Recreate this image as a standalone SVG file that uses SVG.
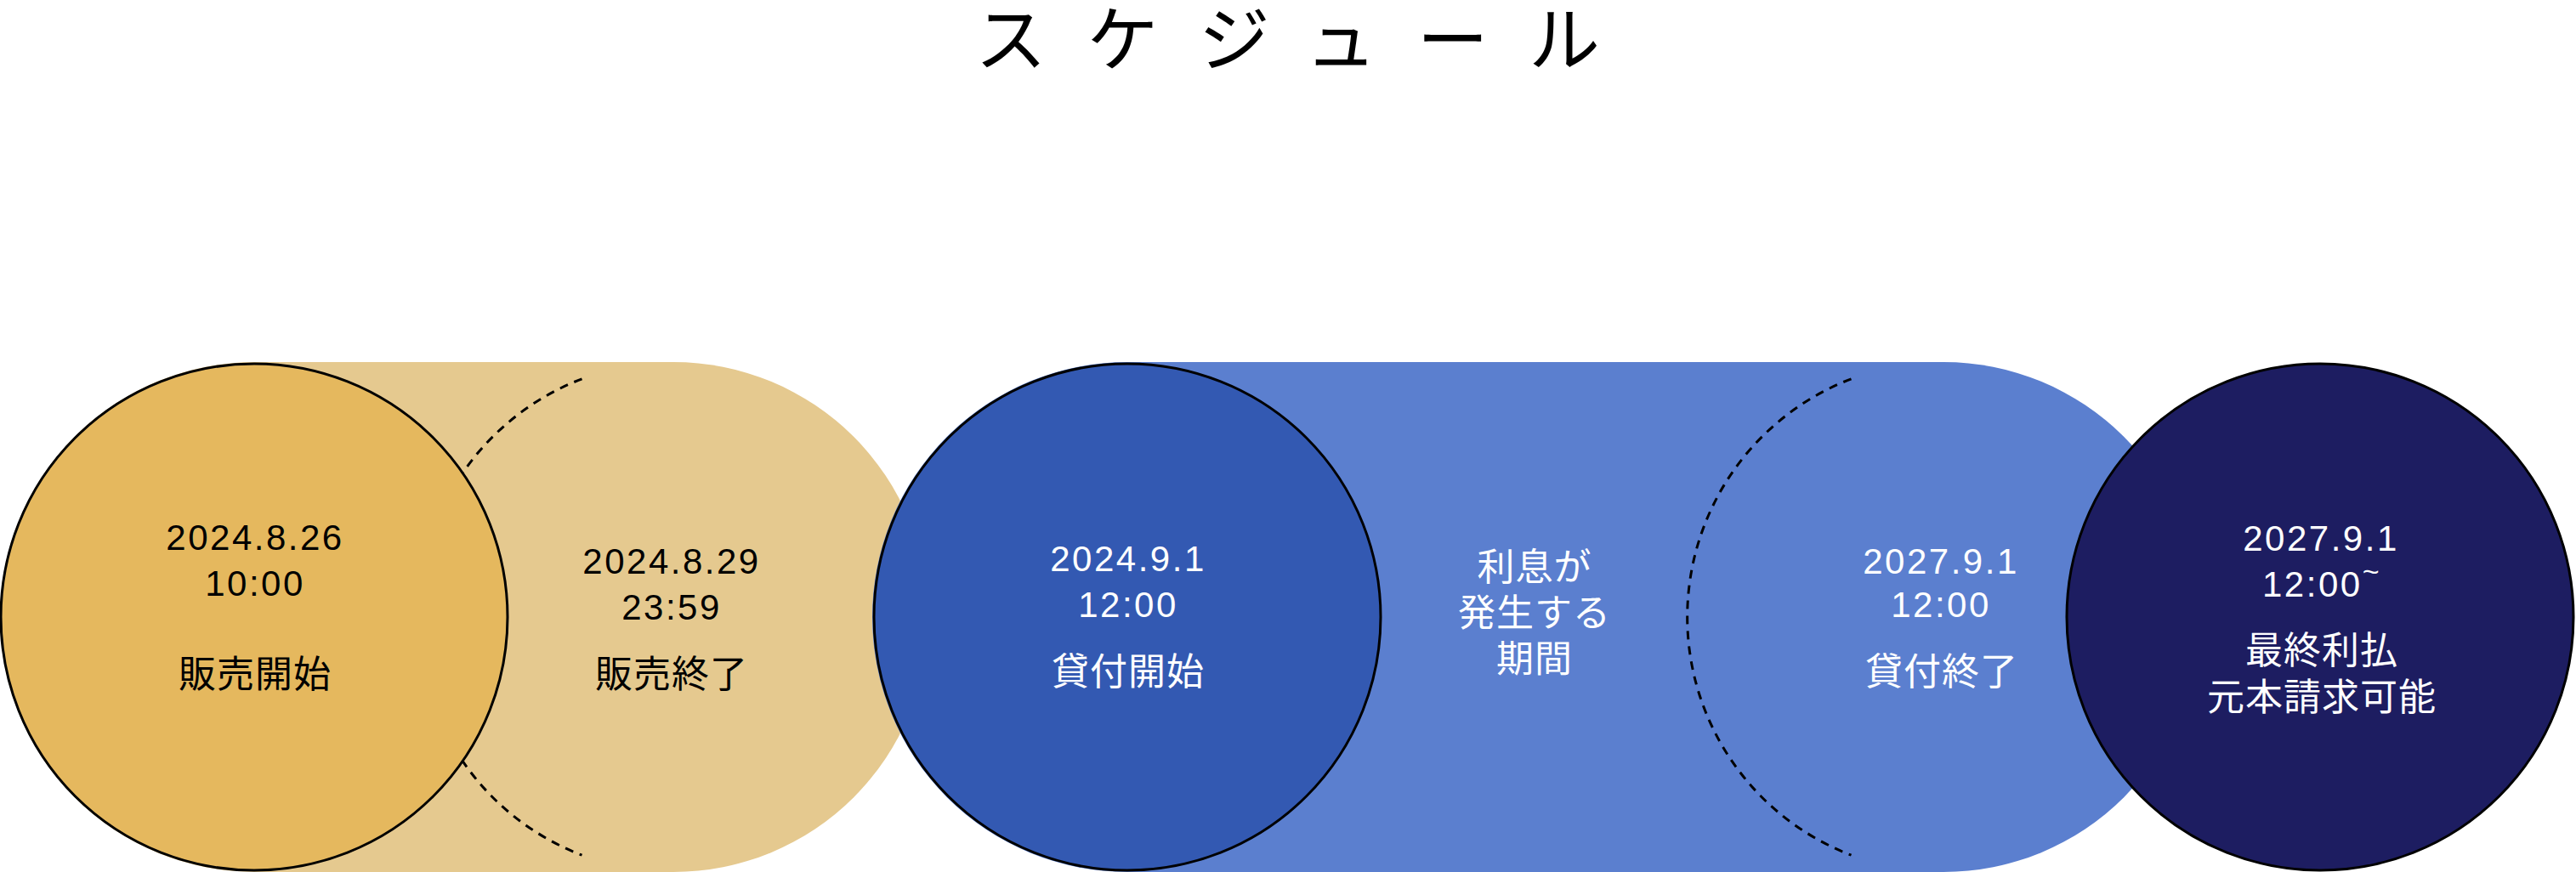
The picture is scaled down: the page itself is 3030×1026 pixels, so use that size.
<svg xmlns="http://www.w3.org/2000/svg" width="3030" height="1026" viewBox="0 0 3030 1026">
  <style>
    text { font-family: "Noto Sans CJK JP", "Noto Sans", sans-serif; text-anchor: middle; }
    .title { font-size: 84px; fill: #000; text-anchor: start; letter-spacing: 47.4px; }
    .num { font-family: "Liberation Sans", "Noto Sans CJK JP", sans-serif; font-size: 42px; letter-spacing: 2.5px; }
    .jp { font-family: "Noto Sans CJK JP", sans-serif; font-size: 44px; letter-spacing: 1px; }
    .dk { fill: #000; }
    .lt { fill: #fff; }
    .ring { stroke: #000; stroke-width: 3; }
    .dash { fill: none; stroke: #000; stroke-width: 3; stroke-dasharray: 10 8; }
  </style>
  <rect width="3030" height="1026" fill="#fff"/>
  <text class="title" x="1147" y="77">スケジュール</text>

  <g id="sales-period">
    <rect x="0" y="426" width="1092" height="600" rx="300" ry="300" fill="#E5C98F"/>
  </g>
  <g id="loan-period">
    <rect x="1026" y="426" width="1560" height="600" rx="300" ry="300" fill="#5B7FCF"/>
  </g>

  <g id="connectors">
    <path class="dash" d="M 684.5 445.8 A 300 300 0 0 0 684.5 1006.2"/>
    <path class="dash" d="M 2177.5 445.8 A 300 300 0 0 0 2177.5 1006.2"/>
  </g>

  <g id="sales-start">
    <circle class="ring" cx="299" cy="726" r="298" fill="#E5B85E"/>
    <text class="dk"><tspan class="num" x="300" y="647">2024.8.26</tspan><tspan class="num" x="300" y="701">10:00</tspan></text>
    <text class="jp dk" x="300" y="809">販売開始</text>
  </g>

  <g id="sales-end">
    <text class="dk"><tspan class="num" x="790" y="675">2024.8.29</tspan><tspan class="num" x="790" y="729">23:59</tspan></text>
    <text class="jp dk" x="790" y="809">販売終了</text>
  </g>

  <g id="loan-start">
    <circle class="ring" cx="1326" cy="726" r="298" fill="#3359B2"/>
    <text class="lt"><tspan class="num" x="1327" y="672">2024.9.1</tspan><tspan class="num" x="1327" y="726">12:00</tspan></text>
    <text class="jp lt" x="1327" y="806">貸付開始</text>
  </g>

  <g id="interest-period">
    <text class="jp lt"><tspan x="1805" y="683">利息が</tspan><tspan x="1805" y="737">発生する</tspan><tspan x="1805" y="791">期間</tspan></text>
  </g>

  <g id="loan-end">
    <text class="lt"><tspan class="num" x="2283" y="675">2027.9.1</tspan><tspan class="num" x="2283" y="726">12:00</tspan></text>
    <text class="jp lt" x="2284" y="806">貸付終了</text>
  </g>

  <g id="final-payment">
    <circle class="ring" cx="2729" cy="726" r="298" fill="#1D1D61"/>
    <text class="lt"><tspan class="num" x="2730" y="648">2027.9.1</tspan><tspan class="num" x="2731" y="702">12:00<tspan font-size="34" dy="-18">~</tspan></tspan></text>
    <text class="jp lt"><tspan x="2731" y="781">最終利払</tspan><tspan x="2731" y="836">元本請求可能</tspan></text>
  </g>
</svg>
